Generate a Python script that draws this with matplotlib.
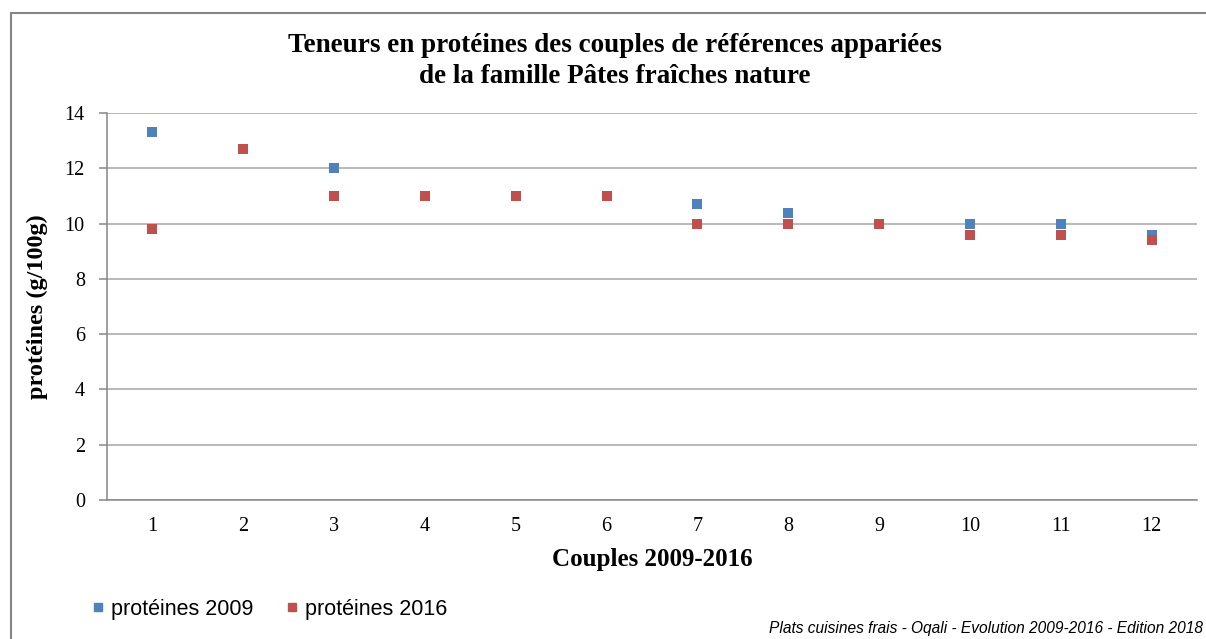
import matplotlib
matplotlib.use("Agg")
import matplotlib.pyplot as plt
from matplotlib.patches import Rectangle
from matplotlib.lines import Line2D

couples = [1, 2, 3, 4, 5, 6, 7, 8, 9, 10, 11, 12]
proteines_2009 = [13.3, 12.7, 12.0, 11.0, 11.0, 11.0, 10.7, 10.4, 10.0, 10.0, 10.0, 9.6]
proteines_2016 = [9.8, 12.7, 11.0, 11.0, 11.0, 11.0, 10.0, 10.0, 10.0, 9.6, 9.6, 9.4]
y_ticks = [0, 2, 4, 6, 8, 10, 12, 14]

blue = "#4F81BD"
red = "#C0504D"
serif = ["Liberation Serif", "DejaVu Serif"]
sans = ["Liberation Sans", "DejaVu Sans"]

fig = plt.figure(figsize=(12.06, 6.39), dpi=100)
W, H = 1206, 639

# outer chart frame (right and bottom edges run off the canvas)
fig.add_artist(Rectangle((11 / W, -0.05), 1.1, 1.05 - 13 / H,
                         transform=fig.transFigure, fill=False,
                         edgecolor="#868686", linewidth=1.5))

ax = fig.add_axes([107 / W, (H - 500) / H, (1197 - 107) / W, 387 / H])
ax.scatter(couples, proteines_2009, marker="s", s=42, color=blue, zorder=3, linewidths=0)
ax.scatter(couples, proteines_2016, marker="s", s=42, color=red, zorder=4, linewidths=0)

ax.set_xlim(0.5, 12.5)
ax.set_ylim(0, 14)
ax.set_yticks(y_ticks)
ax.set_xticks(couples)
ax.grid(axis="y", color="#A6A6A6", linewidth=1.1, zorder=0)
for side in ["top", "right"]:
    ax.spines[side].set_visible(False)
for side in ["left", "bottom"]:
    ax.spines[side].set_color("#868686")
    ax.spines[side].set_linewidth(1.1)
ax.tick_params(axis="y", length=6, color="#868686", width=1.1, pad=10)
ax.tick_params(axis="x", length=0, pad=12)
for lab in ax.get_xticklabels() + ax.get_yticklabels():
    lab.set_fontfamily(serif)
    lab.set_fontsize(14.5)

ax.set_ylabel("protéines (g/100g)", fontfamily=serif, fontsize=17.5,
              fontweight="bold", labelpad=12)
ax.set_xlabel("Couples 2009-2016", fontfamily=serif, fontsize=18,
              fontweight="bold", labelpad=9)

fig.text(615 / W, 1 - 61 / H,
         "Teneurs en protéines des couples de références appariées\nde la famille Pâtes fraîches nature",
         ha="center", va="center", fontfamily=serif, fontsize=19.5,
         fontweight="bold", linespacing=1.3)

handles = [Line2D([], [], marker="s", linestyle="none", color=blue, markersize=6),
           Line2D([], [], marker="s", linestyle="none", color=red, markersize=6)]
fig.legend(handles, ["protéines 2009", "protéines 2016"], loc="center left",
           bbox_to_anchor=(70 / W, 1 - 609 / H), ncol=2, frameon=False,
           prop={"family": sans, "size": 15.5}, handletextpad=0.2,
           columnspacing=1.4, handlelength=0.8)

fig.text(1203 / W, 1 - 628 / H,
         "Plats cuisines frais - Oqali - Evolution 2009-2016 - Edition 2018",
         ha="right", va="center", fontfamily=sans, fontsize=11.2, style="italic")

fig.savefig("out.png", dpi=100)
